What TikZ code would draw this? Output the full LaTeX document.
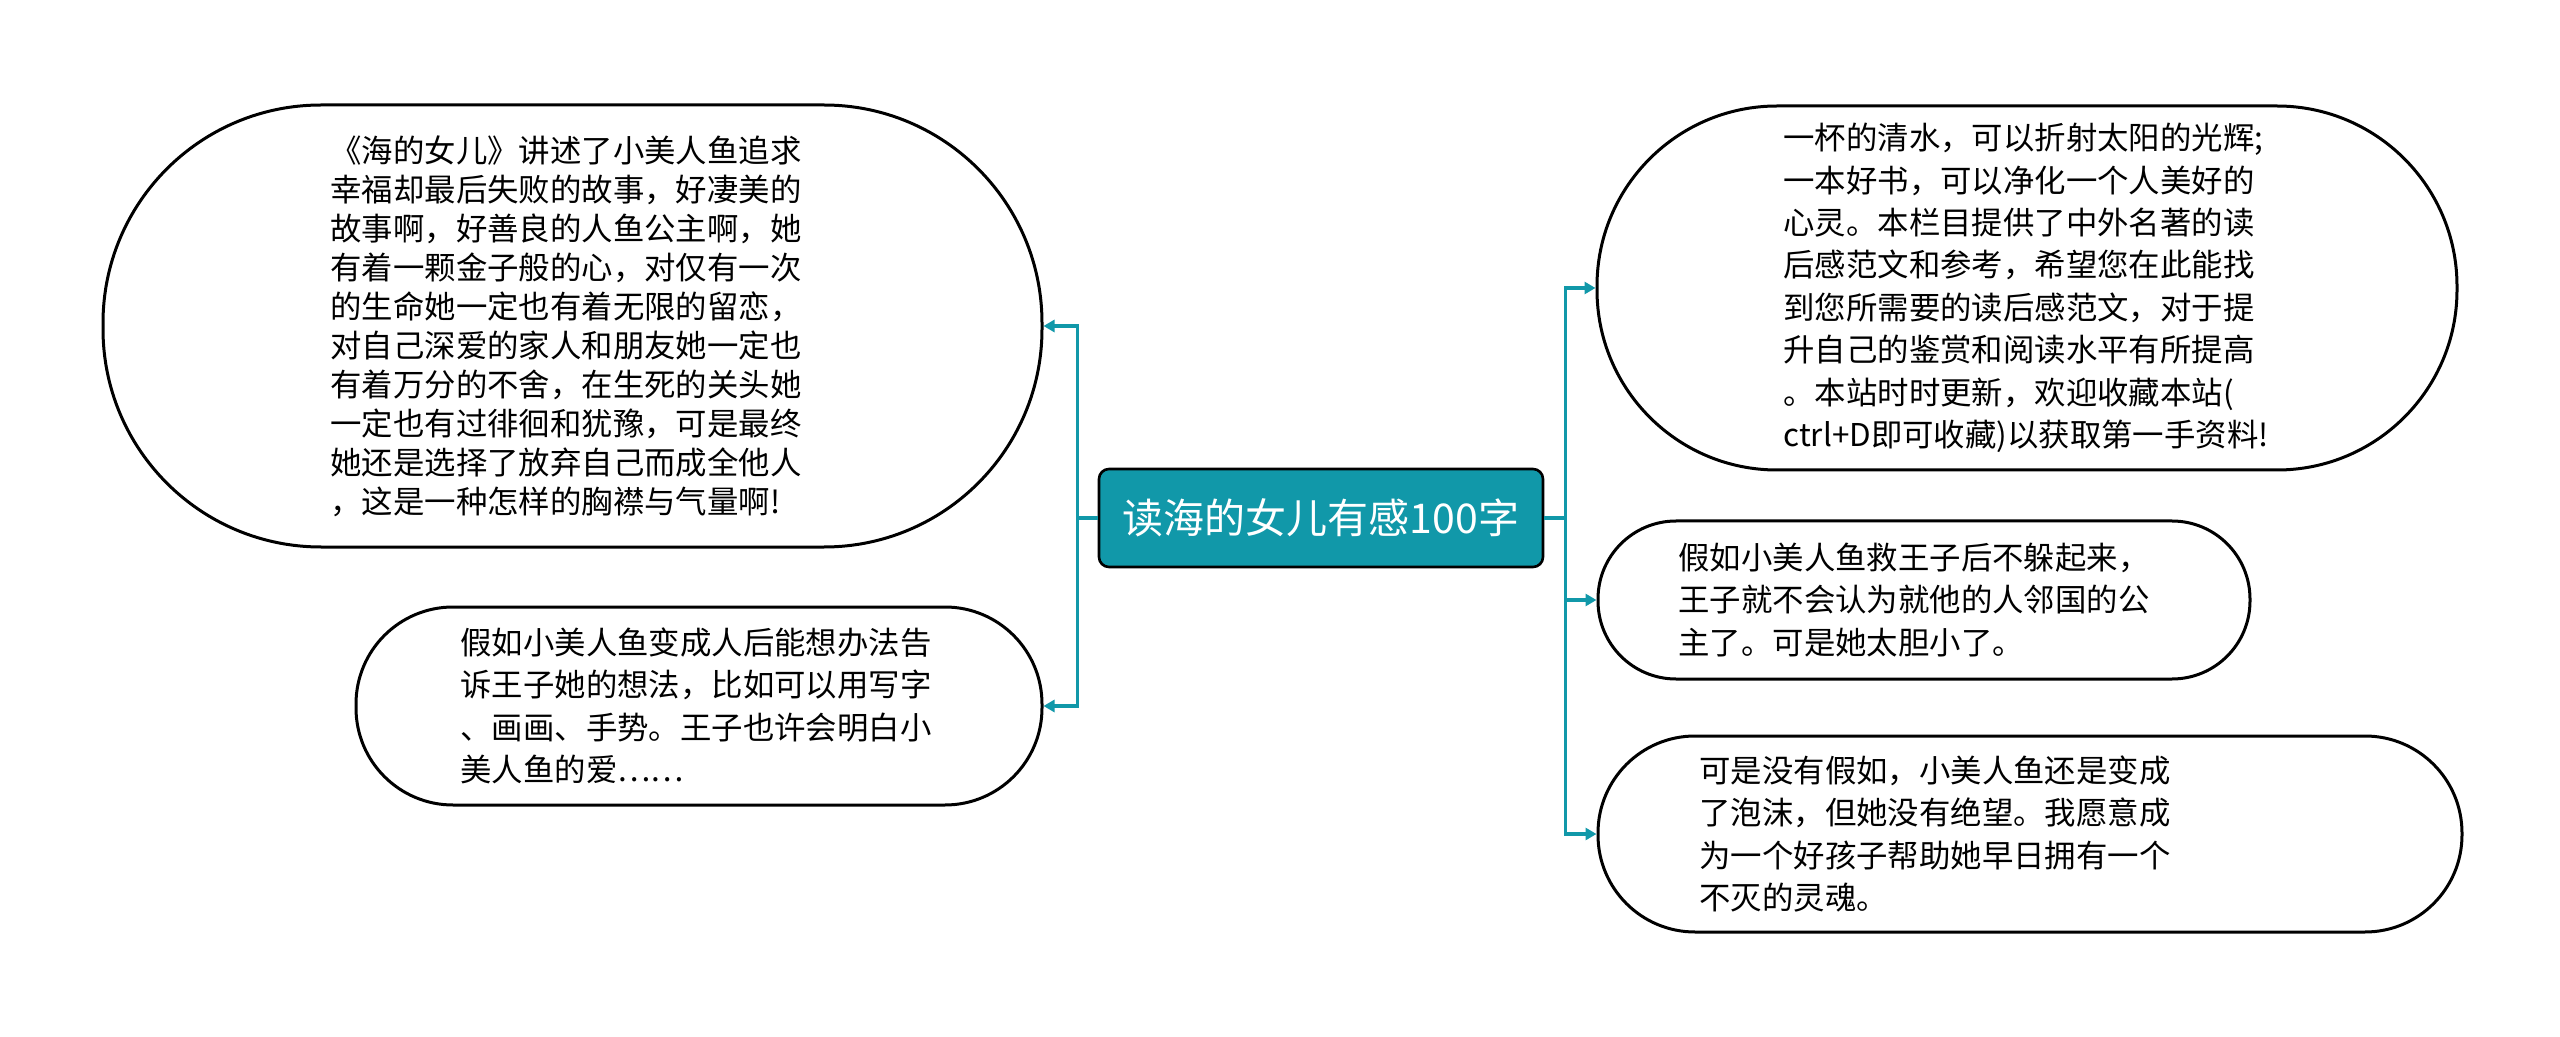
\documentclass[tikz,border=0pt]{standalone}
\usepackage{fontspec}
\setmainfont{Noto Sans CJK SC}
\usetikzlibrary{arrows.meta}
\definecolor{mmteal}{HTML}{1198A9}
\begin{document}
\begin{tikzpicture}[x=0.5pt,y=-0.5pt,
  bubble/.style={draw=black, line width=1.5pt, fill=white, rectangle, inner sep=0pt, rounded corners=#1},
  rootbox/.style={draw=black, line width=1.3pt, fill=mmteal, rounded corners=5pt, inner sep=0pt,
    minimum width=222pt, minimum height=49pt, text=white, font=\fontsize{20.5pt}{24pt}\selectfont},
  txtA/.style={anchor=west, align=left, inner sep=0pt, text=black, font=\fontsize{15.7pt}{19.5pt}\selectfont},
  txtB/.style={anchor=west, align=left, inner sep=0pt, text=black, font=\fontsize{15.7pt}{21.2pt}\selectfont},
  conn/.style={draw=mmteal, line width=1.6pt},
  arr/.style={conn, -{Triangle[length=5.5pt,width=6pt]}}]
\useasboundingbox[fill=white] (0,0) rectangle (2560,1037);

% root
\node[rootbox] (c) at (1321,518) {读海的女儿有感100字};

% bubbles
\node[bubble=109pt, minimum width=469.5pt, minimum height=221pt] (L1) at (572.5,326) {};
\node[bubble=48.5pt, minimum width=343pt, minimum height=99pt] (L2) at (699,706) {};
\node[bubble=90pt, minimum width=430pt, minimum height=182pt] (R1) at (2027,288) {};
\node[bubble=39pt, minimum width=326pt, minimum height=79pt] (R2) at (1924,600) {};
\node[bubble=48.5pt, minimum width=432pt, minimum height=98pt] (R3) at (2030,834) {};

% texts
\node[txtA] (tL1) at (330,326) {《海的女儿》讲述了小美人鱼追求\\幸福却最后失败的故事，好凄美的\\故事啊，好善良的人鱼公主啊，她\\有着一颗金子般的心，对仅有一次\\的生命她一定也有着无限的留恋，\\对自己深爱的家人和朋友她一定也\\有着万分的不舍，在生死的关头她\\一定也有过徘徊和犹豫，可是最终\\她还是选择了放弃自己而成全他人\\，这是一种怎样的胸襟与气量啊!};
\node[txtB] (tL2) at (460,706) {假如小美人鱼变成人后能想办法告\\诉王子她的想法，比如可以用写字\\、画画、手势。王子也许会明白小\\美人鱼的爱……};
\node[txtB] (tR1) at (1783,288) {一杯的清水，可以折射太阳的光辉;\\一本好书，可以净化一个人美好的\\心灵。本栏目提供了中外名著的读\\后感范文和参考，希望您在此能找\\到您所需要的读后感范文，对于提\\升自己的鉴赏和阅读水平有所提高\\。本站时时更新，欢迎收藏本站(\\ctrl+D即可收藏)以获取第一手资料!};
\node[txtB] (tR2) at (1678,600) {假如小美人鱼救王子后不躲起来，\\王子就不会认为就他的人邻国的公\\主了。可是她太胆小了。};
\node[txtB] (tR3) at (1699,834) {可是没有假如，小美人鱼还是变成\\了泡沫，但她没有绝望。我愿意成\\为一个好孩子帮助她早日拥有一个\\不灭的灵魂。};

% connectors
\draw[conn] (c.west) -- ++(-20,0) coordinate (lj);
\draw[arr] (lj) |- (L1.east);
\draw[arr] (lj) |- (L2.east);
\draw[conn] (c.east) -- ++(21,0) coordinate (rj);
\draw[arr] (rj) |- (R1.west);
\draw[arr] (rj) |- (R2.west);
\draw[arr] (rj) |- (R3.west);
\end{tikzpicture}
\end{document}
